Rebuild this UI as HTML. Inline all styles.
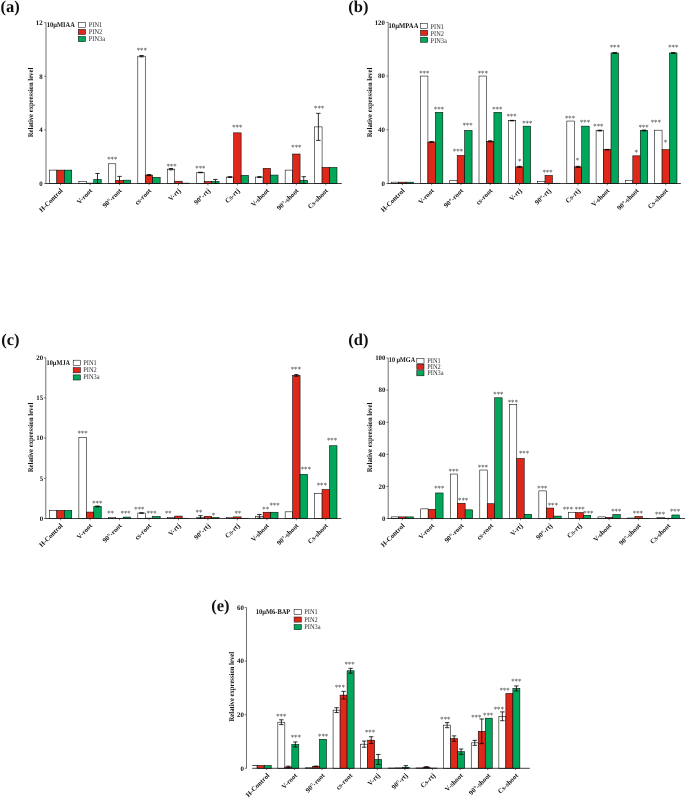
<!DOCTYPE html>
<html><head><meta charset="utf-8"><title>Figure</title>
<style>html,body{margin:0;padding:0;background:#fff}svg{display:block}.t{font-family:"Liberation Serif","Times New Roman",serif;text-rendering:geometricPrecision}</style></head>
<body><svg width="685" height="799" viewBox="0 0 685 799">
<rect width="685" height="799" fill="#fff"/>
<defs><filter id="gs" x="0" y="0" width="685" height="799" filterUnits="userSpaceOnUse" color-interpolation-filters="sRGB"><feColorMatrix type="saturate" values="0"/></filter></defs>
<rect x="49.40" y="170.10" width="7.45" height="13.40" fill="#ffffff" stroke="#000" stroke-width="0.55"/>
<rect x="56.85" y="170.10" width="7.45" height="13.40" fill="#e0281a" stroke="#000" stroke-width="0.55"/>
<rect x="64.30" y="170.10" width="7.45" height="13.40" fill="#00a65a" stroke="#000" stroke-width="0.55"/>
<rect x="78.87" y="181.49" width="7.45" height="2.01" fill="#ffffff" stroke="#000" stroke-width="0.55"/>
<rect x="86.32" y="183.10" width="7.45" height="0.40" fill="#e0281a" stroke="#000" stroke-width="0.55"/>
<rect x="93.77" y="179.48" width="7.45" height="4.02" fill="#00a65a" stroke="#000" stroke-width="0.55"/>
<path d="M97.50 173.45V183.50M95.30 173.45H99.70M95.30 183.50H99.70" stroke="#000" stroke-width="0.8" fill="none"/>
<rect x="108.34" y="163.80" width="7.45" height="19.70" fill="#ffffff" stroke="#000" stroke-width="0.55"/>
<rect x="115.79" y="180.42" width="7.45" height="3.08" fill="#e0281a" stroke="#000" stroke-width="0.55"/>
<path d="M119.52 176.40V183.50M117.31 176.40H121.72M117.31 183.50H121.72" stroke="#000" stroke-width="0.8" fill="none"/>
<rect x="123.24" y="180.15" width="7.45" height="3.35" fill="#00a65a" stroke="#000" stroke-width="0.55"/>
<rect x="137.81" y="56.20" width="7.45" height="127.30" fill="#ffffff" stroke="#000" stroke-width="0.55"/>
<path d="M141.53 55.53V56.87M139.34 55.53H143.73M139.34 56.87H143.73" stroke="#000" stroke-width="0.8" fill="none"/>
<rect x="145.26" y="175.06" width="7.45" height="8.44" fill="#e0281a" stroke="#000" stroke-width="0.55"/>
<path d="M148.98 174.52V175.59M146.78 174.52H151.18M146.78 175.59H151.18" stroke="#000" stroke-width="0.8" fill="none"/>
<rect x="152.71" y="177.34" width="7.45" height="6.16" fill="#00a65a" stroke="#000" stroke-width="0.55"/>
<rect x="167.28" y="169.16" width="7.45" height="14.34" fill="#ffffff" stroke="#000" stroke-width="0.55"/>
<path d="M171.00 168.49V169.83M168.81 168.49H173.20M168.81 169.83H173.20" stroke="#000" stroke-width="0.8" fill="none"/>
<rect x="174.73" y="181.22" width="7.45" height="2.28" fill="#e0281a" stroke="#000" stroke-width="0.55"/>
<rect x="182.18" y="183.10" width="7.45" height="0.40" fill="#00a65a" stroke="#000" stroke-width="0.55"/>
<rect x="196.75" y="172.51" width="7.45" height="10.99" fill="#ffffff" stroke="#000" stroke-width="0.55"/>
<path d="M200.47 172.24V172.78M198.28 172.24H202.67M198.28 172.78H202.67" stroke="#000" stroke-width="0.8" fill="none"/>
<rect x="204.20" y="181.49" width="7.45" height="2.01" fill="#e0281a" stroke="#000" stroke-width="0.55"/>
<rect x="211.65" y="181.49" width="7.45" height="2.01" fill="#00a65a" stroke="#000" stroke-width="0.55"/>
<path d="M215.38 179.48V183.50M213.18 179.48H217.57M213.18 183.50H217.57" stroke="#000" stroke-width="0.8" fill="none"/>
<rect x="226.22" y="177.07" width="7.45" height="6.43" fill="#ffffff" stroke="#000" stroke-width="0.55"/>
<path d="M229.94 176.67V177.47M227.75 176.67H232.14M227.75 177.47H232.14" stroke="#000" stroke-width="0.8" fill="none"/>
<rect x="233.67" y="132.85" width="7.45" height="50.65" fill="#e0281a" stroke="#000" stroke-width="0.55"/>
<rect x="241.12" y="175.33" width="7.45" height="8.17" fill="#00a65a" stroke="#000" stroke-width="0.55"/>
<rect x="255.69" y="177.07" width="7.45" height="6.43" fill="#ffffff" stroke="#000" stroke-width="0.55"/>
<path d="M259.42 176.67V177.47M257.22 176.67H261.62M257.22 177.47H261.62" stroke="#000" stroke-width="0.8" fill="none"/>
<rect x="263.14" y="168.36" width="7.45" height="15.14" fill="#e0281a" stroke="#000" stroke-width="0.55"/>
<rect x="270.59" y="175.06" width="7.45" height="8.44" fill="#00a65a" stroke="#000" stroke-width="0.55"/>
<rect x="285.16" y="170.10" width="7.45" height="13.40" fill="#ffffff" stroke="#000" stroke-width="0.55"/>
<rect x="292.61" y="154.02" width="7.45" height="29.48" fill="#e0281a" stroke="#000" stroke-width="0.55"/>
<rect x="300.06" y="180.42" width="7.45" height="3.08" fill="#00a65a" stroke="#000" stroke-width="0.55"/>
<path d="M303.78 176.67V183.50M301.58 176.67H305.98M301.58 183.50H305.98" stroke="#000" stroke-width="0.8" fill="none"/>
<rect x="314.63" y="126.89" width="7.45" height="56.61" fill="#ffffff" stroke="#000" stroke-width="0.55"/>
<path d="M318.36 113.35V140.42M316.16 113.35H320.56M316.16 140.42H320.56" stroke="#000" stroke-width="0.8" fill="none"/>
<rect x="322.08" y="167.42" width="7.45" height="16.08" fill="#e0281a" stroke="#000" stroke-width="0.55"/>
<rect x="329.53" y="167.42" width="7.45" height="16.08" fill="#00a65a" stroke="#000" stroke-width="0.55"/>
<path d="M46.00 22.70V183.50" stroke="#333" stroke-width="0.7" fill="none"/>
<path d="M45.70 183.50H341.80" stroke="#111" stroke-width="0.8" fill="none"/>
<path d="M44.20 183.50H46.00" stroke="#222" stroke-width="0.6"/>
<path d="M44.20 129.90H46.00" stroke="#222" stroke-width="0.6"/>
<path d="M44.20 76.30H46.00" stroke="#222" stroke-width="0.6"/>
<path d="M44.20 22.70H46.00" stroke="#222" stroke-width="0.6"/>
<path d="M60.58 183.50v1.8" stroke="#222" stroke-width="0.6"/>
<path d="M90.05 183.50v1.8" stroke="#222" stroke-width="0.6"/>
<path d="M119.52 183.50v1.8" stroke="#222" stroke-width="0.6"/>
<path d="M148.99 183.50v1.8" stroke="#222" stroke-width="0.6"/>
<path d="M178.46 183.50v1.8" stroke="#222" stroke-width="0.6"/>
<path d="M207.93 183.50v1.8" stroke="#222" stroke-width="0.6"/>
<path d="M237.40 183.50v1.8" stroke="#222" stroke-width="0.6"/>
<path d="M266.87 183.50v1.8" stroke="#222" stroke-width="0.6"/>
<path d="M296.33 183.50v1.8" stroke="#222" stroke-width="0.6"/>
<path d="M325.81 183.50v1.8" stroke="#222" stroke-width="0.6"/>
<rect x="78.30" y="22.50" width="7.2" height="5.1" fill="#ffffff" stroke="#111" stroke-width="0.55"/>
<rect x="78.30" y="29.40" width="7.2" height="5.1" fill="#e0281a" stroke="#111" stroke-width="0.55"/>
<rect x="78.30" y="36.50" width="7.2" height="5.1" fill="#00a65a" stroke="#111" stroke-width="0.55"/>
<rect x="391.20" y="182.16" width="7.45" height="1.34" fill="#ffffff" stroke="#000" stroke-width="0.55"/>
<rect x="398.65" y="182.16" width="7.45" height="1.34" fill="#e0281a" stroke="#000" stroke-width="0.55"/>
<rect x="406.10" y="182.16" width="7.45" height="1.34" fill="#00a65a" stroke="#000" stroke-width="0.55"/>
<rect x="420.47" y="76.06" width="7.45" height="107.44" fill="#ffffff" stroke="#000" stroke-width="0.55"/>
<rect x="427.92" y="142.00" width="7.45" height="41.50" fill="#e0281a" stroke="#000" stroke-width="0.55"/>
<path d="M431.64 141.46V142.54M429.44 141.46H433.84M429.44 142.54H433.84" stroke="#000" stroke-width="0.8" fill="none"/>
<rect x="435.37" y="112.32" width="7.45" height="71.18" fill="#00a65a" stroke="#000" stroke-width="0.55"/>
<rect x="449.74" y="180.55" width="7.45" height="2.95" fill="#ffffff" stroke="#000" stroke-width="0.55"/>
<rect x="457.19" y="155.43" width="7.45" height="28.07" fill="#e0281a" stroke="#000" stroke-width="0.55"/>
<rect x="464.64" y="130.45" width="7.45" height="53.05" fill="#00a65a" stroke="#000" stroke-width="0.55"/>
<rect x="479.01" y="76.06" width="7.45" height="107.44" fill="#ffffff" stroke="#000" stroke-width="0.55"/>
<rect x="486.46" y="141.33" width="7.45" height="42.17" fill="#e0281a" stroke="#000" stroke-width="0.55"/>
<path d="M490.19 140.79V141.87M487.99 140.79H492.38M487.99 141.87H492.38" stroke="#000" stroke-width="0.8" fill="none"/>
<rect x="493.91" y="112.32" width="7.45" height="71.18" fill="#00a65a" stroke="#000" stroke-width="0.55"/>
<rect x="508.28" y="120.65" width="7.45" height="62.85" fill="#ffffff" stroke="#000" stroke-width="0.55"/>
<path d="M512.00 120.38V120.92M509.81 120.38H514.21M509.81 120.92H514.21" stroke="#000" stroke-width="0.8" fill="none"/>
<rect x="515.73" y="166.85" width="7.45" height="16.65" fill="#e0281a" stroke="#000" stroke-width="0.55"/>
<path d="M519.46 166.31V167.38M517.25 166.31H521.66M517.25 167.38H521.66" stroke="#000" stroke-width="0.8" fill="none"/>
<rect x="523.18" y="126.15" width="7.45" height="57.35" fill="#00a65a" stroke="#000" stroke-width="0.55"/>
<rect x="537.55" y="181.35" width="7.45" height="2.15" fill="#ffffff" stroke="#000" stroke-width="0.55"/>
<rect x="545.00" y="175.44" width="7.45" height="8.06" fill="#e0281a" stroke="#000" stroke-width="0.55"/>
<rect x="552.45" y="183.25" width="7.45" height="0.25" fill="#00a65a" stroke="#000" stroke-width="0.55"/>
<rect x="566.82" y="121.05" width="7.45" height="62.45" fill="#ffffff" stroke="#000" stroke-width="0.55"/>
<rect x="574.27" y="166.85" width="7.45" height="16.65" fill="#e0281a" stroke="#000" stroke-width="0.55"/>
<path d="M578.00 166.31V167.38M575.79 166.31H580.20M575.79 167.38H580.20" stroke="#000" stroke-width="0.8" fill="none"/>
<rect x="581.72" y="126.15" width="7.45" height="57.35" fill="#00a65a" stroke="#000" stroke-width="0.55"/>
<rect x="596.09" y="130.59" width="7.45" height="52.91" fill="#ffffff" stroke="#000" stroke-width="0.55"/>
<path d="M599.81 130.18V130.99M597.61 130.18H602.01M597.61 130.99H602.01" stroke="#000" stroke-width="0.8" fill="none"/>
<rect x="603.54" y="149.66" width="7.45" height="33.84" fill="#e0281a" stroke="#000" stroke-width="0.55"/>
<path d="M607.26 149.39V149.93M605.06 149.39H609.47M605.06 149.93H609.47" stroke="#000" stroke-width="0.8" fill="none"/>
<rect x="610.99" y="52.96" width="7.45" height="130.54" fill="#00a65a" stroke="#000" stroke-width="0.55"/>
<path d="M614.71 52.56V53.36M612.51 52.56H616.91M612.51 53.36H616.91" stroke="#000" stroke-width="0.8" fill="none"/>
<rect x="625.36" y="180.41" width="7.45" height="3.09" fill="#ffffff" stroke="#000" stroke-width="0.55"/>
<rect x="632.81" y="155.83" width="7.45" height="27.67" fill="#e0281a" stroke="#000" stroke-width="0.55"/>
<rect x="640.26" y="130.45" width="7.45" height="53.05" fill="#00a65a" stroke="#000" stroke-width="0.55"/>
<path d="M643.99 130.05V130.85M641.78 130.05H646.19M641.78 130.85H646.19" stroke="#000" stroke-width="0.8" fill="none"/>
<rect x="654.63" y="130.18" width="7.45" height="53.32" fill="#ffffff" stroke="#000" stroke-width="0.55"/>
<rect x="662.08" y="149.66" width="7.45" height="33.84" fill="#e0281a" stroke="#000" stroke-width="0.55"/>
<rect x="669.53" y="52.96" width="7.45" height="130.54" fill="#00a65a" stroke="#000" stroke-width="0.55"/>
<path d="M673.25 52.56V53.36M671.05 52.56H675.46M671.05 53.36H675.46" stroke="#000" stroke-width="0.8" fill="none"/>
<path d="M388.20 22.34V183.50" stroke="#333" stroke-width="0.7" fill="none"/>
<path d="M387.90 183.50H680.90" stroke="#111" stroke-width="0.8" fill="none"/>
<path d="M386.40 183.50H388.20" stroke="#222" stroke-width="0.6"/>
<path d="M386.40 129.78H388.20" stroke="#222" stroke-width="0.6"/>
<path d="M386.40 76.06H388.20" stroke="#222" stroke-width="0.6"/>
<path d="M386.40 22.34H388.20" stroke="#222" stroke-width="0.6"/>
<path d="M402.38 183.50v1.8" stroke="#222" stroke-width="0.6"/>
<path d="M431.64 183.50v1.8" stroke="#222" stroke-width="0.6"/>
<path d="M460.92 183.50v1.8" stroke="#222" stroke-width="0.6"/>
<path d="M490.19 183.50v1.8" stroke="#222" stroke-width="0.6"/>
<path d="M519.45 183.50v1.8" stroke="#222" stroke-width="0.6"/>
<path d="M548.72 183.50v1.8" stroke="#222" stroke-width="0.6"/>
<path d="M577.99 183.50v1.8" stroke="#222" stroke-width="0.6"/>
<path d="M607.26 183.50v1.8" stroke="#222" stroke-width="0.6"/>
<path d="M636.53 183.50v1.8" stroke="#222" stroke-width="0.6"/>
<path d="M665.80 183.50v1.8" stroke="#222" stroke-width="0.6"/>
<rect x="420.50" y="23.50" width="7.2" height="5.1" fill="#ffffff" stroke="#111" stroke-width="0.55"/>
<rect x="420.50" y="30.30" width="7.2" height="5.1" fill="#e0281a" stroke="#111" stroke-width="0.55"/>
<rect x="420.50" y="37.20" width="7.2" height="5.1" fill="#00a65a" stroke="#111" stroke-width="0.55"/>
<rect x="49.40" y="510.46" width="7.45" height="8.04" fill="#ffffff" stroke="#000" stroke-width="0.55"/>
<rect x="56.85" y="510.46" width="7.45" height="8.04" fill="#e0281a" stroke="#000" stroke-width="0.55"/>
<rect x="64.30" y="510.46" width="7.45" height="8.04" fill="#00a65a" stroke="#000" stroke-width="0.55"/>
<rect x="78.87" y="437.30" width="7.45" height="81.20" fill="#ffffff" stroke="#000" stroke-width="0.55"/>
<rect x="86.32" y="512.07" width="7.45" height="6.43" fill="#e0281a" stroke="#000" stroke-width="0.55"/>
<rect x="93.77" y="506.44" width="7.45" height="12.06" fill="#00a65a" stroke="#000" stroke-width="0.55"/>
<path d="M97.50 506.04V506.84M95.30 506.04H99.70M95.30 506.84H99.70" stroke="#000" stroke-width="0.8" fill="none"/>
<rect x="108.34" y="517.29" width="7.45" height="1.21" fill="#ffffff" stroke="#000" stroke-width="0.55"/>
<rect x="115.79" y="518.25" width="7.45" height="0.25" fill="#e0281a" stroke="#000" stroke-width="0.55"/>
<rect x="123.24" y="517.05" width="7.45" height="1.45" fill="#00a65a" stroke="#000" stroke-width="0.55"/>
<rect x="137.81" y="513.03" width="7.45" height="5.47" fill="#ffffff" stroke="#000" stroke-width="0.55"/>
<path d="M141.53 512.79V513.27M139.34 512.79H143.73M139.34 513.27H143.73" stroke="#000" stroke-width="0.8" fill="none"/>
<rect x="145.26" y="518.10" width="7.45" height="0.40" fill="#e0281a" stroke="#000" stroke-width="0.55"/>
<rect x="152.71" y="516.49" width="7.45" height="2.01" fill="#00a65a" stroke="#000" stroke-width="0.55"/>
<rect x="167.28" y="517.29" width="7.45" height="1.21" fill="#ffffff" stroke="#000" stroke-width="0.55"/>
<rect x="174.73" y="516.09" width="7.45" height="2.41" fill="#e0281a" stroke="#000" stroke-width="0.55"/>
<rect x="182.18" y="518.25" width="7.45" height="0.25" fill="#00a65a" stroke="#000" stroke-width="0.55"/>
<rect x="196.75" y="517.29" width="7.45" height="1.21" fill="#ffffff" stroke="#000" stroke-width="0.55"/>
<path d="M200.47 515.69V518.50M198.28 515.69H202.67M198.28 518.50H202.67" stroke="#000" stroke-width="0.8" fill="none"/>
<rect x="204.20" y="516.25" width="7.45" height="2.25" fill="#e0281a" stroke="#000" stroke-width="0.55"/>
<rect x="211.65" y="517.54" width="7.45" height="0.96" fill="#00a65a" stroke="#000" stroke-width="0.55"/>
<rect x="226.22" y="517.70" width="7.45" height="0.80" fill="#ffffff" stroke="#000" stroke-width="0.55"/>
<rect x="233.67" y="516.89" width="7.45" height="1.61" fill="#e0281a" stroke="#000" stroke-width="0.55"/>
<rect x="241.12" y="518.25" width="7.45" height="0.25" fill="#00a65a" stroke="#000" stroke-width="0.55"/>
<rect x="255.69" y="516.25" width="7.45" height="2.25" fill="#ffffff" stroke="#000" stroke-width="0.55"/>
<path d="M259.42 514.48V518.02M257.22 514.48H261.62M257.22 518.02H261.62" stroke="#000" stroke-width="0.8" fill="none"/>
<rect x="263.14" y="512.23" width="7.45" height="6.27" fill="#e0281a" stroke="#000" stroke-width="0.55"/>
<rect x="270.59" y="512.23" width="7.45" height="6.27" fill="#00a65a" stroke="#000" stroke-width="0.55"/>
<rect x="285.16" y="511.83" width="7.45" height="6.67" fill="#ffffff" stroke="#000" stroke-width="0.55"/>
<rect x="292.61" y="375.39" width="7.45" height="143.11" fill="#e0281a" stroke="#000" stroke-width="0.55"/>
<path d="M296.33 374.58V376.19M294.13 374.58H298.53M294.13 376.19H298.53" stroke="#000" stroke-width="0.8" fill="none"/>
<rect x="300.06" y="474.28" width="7.45" height="44.22" fill="#00a65a" stroke="#000" stroke-width="0.55"/>
<rect x="314.63" y="493.58" width="7.45" height="24.92" fill="#ffffff" stroke="#000" stroke-width="0.55"/>
<rect x="322.08" y="489.56" width="7.45" height="28.94" fill="#e0281a" stroke="#000" stroke-width="0.55"/>
<rect x="329.53" y="445.74" width="7.45" height="72.76" fill="#00a65a" stroke="#000" stroke-width="0.55"/>
<path d="M45.80 357.70V518.50" stroke="#333" stroke-width="0.7" fill="none"/>
<path d="M45.50 518.50H341.20" stroke="#111" stroke-width="0.8" fill="none"/>
<path d="M44.00 518.50H45.80" stroke="#222" stroke-width="0.6"/>
<path d="M44.00 478.30H45.80" stroke="#222" stroke-width="0.6"/>
<path d="M44.00 438.10H45.80" stroke="#222" stroke-width="0.6"/>
<path d="M44.00 397.90H45.80" stroke="#222" stroke-width="0.6"/>
<path d="M44.00 357.70H45.80" stroke="#222" stroke-width="0.6"/>
<path d="M60.58 518.50v1.8" stroke="#222" stroke-width="0.6"/>
<path d="M90.05 518.50v1.8" stroke="#222" stroke-width="0.6"/>
<path d="M119.52 518.50v1.8" stroke="#222" stroke-width="0.6"/>
<path d="M148.99 518.50v1.8" stroke="#222" stroke-width="0.6"/>
<path d="M178.46 518.50v1.8" stroke="#222" stroke-width="0.6"/>
<path d="M207.93 518.50v1.8" stroke="#222" stroke-width="0.6"/>
<path d="M237.40 518.50v1.8" stroke="#222" stroke-width="0.6"/>
<path d="M266.87 518.50v1.8" stroke="#222" stroke-width="0.6"/>
<path d="M296.33 518.50v1.8" stroke="#222" stroke-width="0.6"/>
<path d="M325.81 518.50v1.8" stroke="#222" stroke-width="0.6"/>
<rect x="73.20" y="360.20" width="7.2" height="5.1" fill="#ffffff" stroke="#111" stroke-width="0.55"/>
<rect x="73.20" y="367.70" width="7.2" height="5.1" fill="#e0281a" stroke="#111" stroke-width="0.55"/>
<rect x="73.20" y="374.90" width="7.2" height="5.1" fill="#00a65a" stroke="#111" stroke-width="0.55"/>
<rect x="391.20" y="516.89" width="7.45" height="1.60" fill="#ffffff" stroke="#000" stroke-width="0.55"/>
<rect x="398.65" y="516.89" width="7.45" height="1.60" fill="#e0281a" stroke="#000" stroke-width="0.55"/>
<rect x="406.10" y="516.89" width="7.45" height="1.60" fill="#00a65a" stroke="#000" stroke-width="0.55"/>
<rect x="420.73" y="508.87" width="7.45" height="9.63" fill="#ffffff" stroke="#000" stroke-width="0.55"/>
<rect x="428.18" y="509.35" width="7.45" height="9.15" fill="#e0281a" stroke="#000" stroke-width="0.55"/>
<rect x="435.63" y="492.98" width="7.45" height="25.52" fill="#00a65a" stroke="#000" stroke-width="0.55"/>
<rect x="450.26" y="474.04" width="7.45" height="44.46" fill="#ffffff" stroke="#000" stroke-width="0.55"/>
<rect x="457.71" y="503.25" width="7.45" height="15.25" fill="#e0281a" stroke="#000" stroke-width="0.55"/>
<rect x="465.16" y="509.83" width="7.45" height="8.67" fill="#00a65a" stroke="#000" stroke-width="0.55"/>
<rect x="479.79" y="470.03" width="7.45" height="48.47" fill="#ffffff" stroke="#000" stroke-width="0.55"/>
<rect x="487.24" y="503.73" width="7.45" height="14.77" fill="#e0281a" stroke="#000" stroke-width="0.55"/>
<rect x="494.69" y="397.80" width="7.45" height="120.70" fill="#00a65a" stroke="#000" stroke-width="0.55"/>
<rect x="509.32" y="404.38" width="7.45" height="114.12" fill="#ffffff" stroke="#000" stroke-width="0.55"/>
<rect x="516.77" y="458.47" width="7.45" height="60.03" fill="#e0281a" stroke="#000" stroke-width="0.55"/>
<rect x="524.22" y="514.33" width="7.45" height="4.17" fill="#00a65a" stroke="#000" stroke-width="0.55"/>
<rect x="538.85" y="490.89" width="7.45" height="27.61" fill="#ffffff" stroke="#000" stroke-width="0.55"/>
<rect x="546.30" y="508.07" width="7.45" height="10.43" fill="#e0281a" stroke="#000" stroke-width="0.55"/>
<rect x="553.75" y="516.09" width="7.45" height="2.41" fill="#00a65a" stroke="#000" stroke-width="0.55"/>
<rect x="568.38" y="512.24" width="7.45" height="6.26" fill="#ffffff" stroke="#000" stroke-width="0.55"/>
<rect x="575.83" y="512.56" width="7.45" height="5.94" fill="#e0281a" stroke="#000" stroke-width="0.55"/>
<rect x="583.28" y="515.29" width="7.45" height="3.21" fill="#00a65a" stroke="#000" stroke-width="0.55"/>
<rect x="597.91" y="516.89" width="7.45" height="1.60" fill="#ffffff" stroke="#000" stroke-width="0.55"/>
<rect x="605.36" y="517.38" width="7.45" height="1.12" fill="#e0281a" stroke="#000" stroke-width="0.55"/>
<rect x="612.81" y="514.49" width="7.45" height="4.01" fill="#00a65a" stroke="#000" stroke-width="0.55"/>
<rect x="627.44" y="518.02" width="7.45" height="0.48" fill="#ffffff" stroke="#000" stroke-width="0.55"/>
<rect x="634.89" y="516.57" width="7.45" height="1.93" fill="#e0281a" stroke="#000" stroke-width="0.55"/>
<rect x="642.34" y="518.25" width="7.45" height="0.25" fill="#00a65a" stroke="#000" stroke-width="0.55"/>
<rect x="656.97" y="517.38" width="7.45" height="1.12" fill="#ffffff" stroke="#000" stroke-width="0.55"/>
<rect x="664.42" y="518.18" width="7.45" height="0.32" fill="#e0281a" stroke="#000" stroke-width="0.55"/>
<rect x="671.87" y="514.97" width="7.45" height="3.53" fill="#00a65a" stroke="#000" stroke-width="0.55"/>
<path d="M388.20 358.00V518.50" stroke="#333" stroke-width="0.7" fill="none"/>
<path d="M387.90 518.50H685.00" stroke="#111" stroke-width="0.8" fill="none"/>
<path d="M386.40 518.50H388.20" stroke="#222" stroke-width="0.6"/>
<path d="M386.40 486.40H388.20" stroke="#222" stroke-width="0.6"/>
<path d="M386.40 454.30H388.20" stroke="#222" stroke-width="0.6"/>
<path d="M386.40 422.20H388.20" stroke="#222" stroke-width="0.6"/>
<path d="M386.40 390.10H388.20" stroke="#222" stroke-width="0.6"/>
<path d="M386.40 358.00H388.20" stroke="#222" stroke-width="0.6"/>
<path d="M402.38 518.50v1.8" stroke="#222" stroke-width="0.6"/>
<path d="M431.91 518.50v1.8" stroke="#222" stroke-width="0.6"/>
<path d="M461.44 518.50v1.8" stroke="#222" stroke-width="0.6"/>
<path d="M490.96 518.50v1.8" stroke="#222" stroke-width="0.6"/>
<path d="M520.50 518.50v1.8" stroke="#222" stroke-width="0.6"/>
<path d="M550.02 518.50v1.8" stroke="#222" stroke-width="0.6"/>
<path d="M579.55 518.50v1.8" stroke="#222" stroke-width="0.6"/>
<path d="M609.08 518.50v1.8" stroke="#222" stroke-width="0.6"/>
<path d="M638.62 518.50v1.8" stroke="#222" stroke-width="0.6"/>
<path d="M668.14 518.50v1.8" stroke="#222" stroke-width="0.6"/>
<rect x="416.80" y="358.60" width="7.2" height="5.1" fill="#ffffff" stroke="#111" stroke-width="0.55"/>
<rect x="416.80" y="364.30" width="7.2" height="5.1" fill="#e0281a" stroke="#111" stroke-width="0.55"/>
<rect x="416.80" y="370.70" width="7.2" height="5.1" fill="#00a65a" stroke="#111" stroke-width="0.55"/>
<path d="M252.30 765.51H257.20V768.30" fill="none" stroke="#000" stroke-width="0.7"/>
<rect x="257.20" y="765.51" width="7.00" height="2.79" fill="#e0281a" stroke="#000" stroke-width="0.55"/>
<rect x="264.20" y="765.51" width="7.00" height="2.79" fill="#00a65a" stroke="#000" stroke-width="0.55"/>
<rect x="277.83" y="722.20" width="7.00" height="46.10" fill="#ffffff" stroke="#000" stroke-width="0.55"/>
<path d="M281.33 719.79V724.62M279.13 719.79H283.53M279.13 724.62H283.53" stroke="#000" stroke-width="0.8" fill="none"/>
<rect x="284.83" y="766.96" width="7.00" height="1.34" fill="#e0281a" stroke="#000" stroke-width="0.55"/>
<path d="M288.33 766.16V767.76M286.13 766.16H290.53M286.13 767.76H290.53" stroke="#000" stroke-width="0.8" fill="none"/>
<rect x="291.83" y="744.45" width="7.00" height="23.85" fill="#00a65a" stroke="#000" stroke-width="0.55"/>
<path d="M295.33 741.96V746.94M293.13 741.96H297.53M293.13 746.94H297.53" stroke="#000" stroke-width="0.8" fill="none"/>
<rect x="305.46" y="767.76" width="7.00" height="0.54" fill="#ffffff" stroke="#000" stroke-width="0.55"/>
<rect x="312.46" y="766.42" width="7.00" height="1.88" fill="#e0281a" stroke="#000" stroke-width="0.55"/>
<path d="M315.96 766.02V766.83M313.76 766.02H318.16M313.76 766.83H318.16" stroke="#000" stroke-width="0.8" fill="none"/>
<rect x="319.46" y="739.36" width="7.00" height="28.94" fill="#00a65a" stroke="#000" stroke-width="0.55"/>
<rect x="333.09" y="710.14" width="7.00" height="58.16" fill="#ffffff" stroke="#000" stroke-width="0.55"/>
<path d="M336.59 707.73V712.56M334.39 707.73H338.79M334.39 712.56H338.79" stroke="#000" stroke-width="0.8" fill="none"/>
<rect x="340.09" y="695.14" width="7.00" height="73.16" fill="#e0281a" stroke="#000" stroke-width="0.55"/>
<path d="M343.59 691.38V698.89M341.39 691.38H345.79M341.39 698.89H345.79" stroke="#000" stroke-width="0.8" fill="none"/>
<rect x="347.09" y="670.75" width="7.00" height="97.55" fill="#00a65a" stroke="#000" stroke-width="0.55"/>
<path d="M350.59 668.34V673.16M348.39 668.34H352.79M348.39 673.16H352.79" stroke="#000" stroke-width="0.8" fill="none"/>
<rect x="360.72" y="744.18" width="7.00" height="24.12" fill="#ffffff" stroke="#000" stroke-width="0.55"/>
<path d="M364.22 741.10V747.26M362.02 741.10H366.42M362.02 747.26H366.42" stroke="#000" stroke-width="0.8" fill="none"/>
<rect x="367.72" y="740.16" width="7.00" height="28.14" fill="#e0281a" stroke="#000" stroke-width="0.55"/>
<path d="M371.22 736.76V743.56M369.02 736.76H373.42M369.02 743.56H373.42" stroke="#000" stroke-width="0.8" fill="none"/>
<rect x="374.72" y="759.46" width="7.00" height="8.84" fill="#00a65a" stroke="#000" stroke-width="0.55"/>
<path d="M378.22 754.44V764.47M376.02 754.44H380.42M376.02 764.47H380.42" stroke="#000" stroke-width="0.8" fill="none"/>
<rect x="388.35" y="768.03" width="7.00" height="0.27" fill="#ffffff" stroke="#000" stroke-width="0.55"/>
<rect x="395.35" y="767.90" width="7.00" height="0.40" fill="#e0281a" stroke="#000" stroke-width="0.55"/>
<rect x="402.35" y="767.23" width="7.00" height="1.07" fill="#00a65a" stroke="#000" stroke-width="0.55"/>
<path d="M405.85 765.62V768.30M403.65 765.62H408.05M403.65 768.30H408.05" stroke="#000" stroke-width="0.8" fill="none"/>
<rect x="415.98" y="767.90" width="7.00" height="0.40" fill="#ffffff" stroke="#000" stroke-width="0.55"/>
<rect x="422.98" y="767.09" width="7.00" height="1.21" fill="#e0281a" stroke="#000" stroke-width="0.55"/>
<path d="M426.48 766.69V767.50M424.28 766.69H428.68M424.28 767.50H428.68" stroke="#000" stroke-width="0.8" fill="none"/>
<rect x="429.98" y="768.03" width="7.00" height="0.27" fill="#00a65a" stroke="#000" stroke-width="0.55"/>
<rect x="443.61" y="725.15" width="7.00" height="43.15" fill="#ffffff" stroke="#000" stroke-width="0.55"/>
<path d="M447.11 722.61V727.70M444.91 722.61H449.31M444.91 727.70H449.31" stroke="#000" stroke-width="0.8" fill="none"/>
<rect x="450.61" y="738.55" width="7.00" height="29.75" fill="#e0281a" stroke="#000" stroke-width="0.55"/>
<path d="M454.11 735.87V741.23M451.91 735.87H456.31M451.91 741.23H456.31" stroke="#000" stroke-width="0.8" fill="none"/>
<rect x="457.61" y="751.68" width="7.00" height="16.62" fill="#00a65a" stroke="#000" stroke-width="0.55"/>
<path d="M461.11 749.00V754.36M458.91 749.00H463.31M458.91 754.36H463.31" stroke="#000" stroke-width="0.8" fill="none"/>
<rect x="471.24" y="742.84" width="7.00" height="25.46" fill="#ffffff" stroke="#000" stroke-width="0.55"/>
<path d="M474.74 740.35V745.33M472.54 740.35H476.94M472.54 745.33H476.94" stroke="#000" stroke-width="0.8" fill="none"/>
<rect x="478.24" y="731.32" width="7.00" height="36.98" fill="#e0281a" stroke="#000" stroke-width="0.55"/>
<path d="M481.74 718.99V743.64M479.54 718.99H483.94M479.54 743.64H483.94" stroke="#000" stroke-width="0.8" fill="none"/>
<rect x="485.24" y="718.18" width="7.00" height="50.12" fill="#00a65a" stroke="#000" stroke-width="0.55"/>
<rect x="498.87" y="716.31" width="7.00" height="51.99" fill="#ffffff" stroke="#000" stroke-width="0.55"/>
<path d="M502.37 711.89V720.73M500.17 711.89H504.57M500.17 720.73H504.57" stroke="#000" stroke-width="0.8" fill="none"/>
<rect x="505.87" y="693.53" width="7.00" height="74.77" fill="#e0281a" stroke="#000" stroke-width="0.55"/>
<rect x="512.87" y="688.44" width="7.00" height="79.86" fill="#00a65a" stroke="#000" stroke-width="0.55"/>
<path d="M516.37 685.94V690.93M514.17 685.94H518.57M514.17 690.93H518.57" stroke="#000" stroke-width="0.8" fill="none"/>
<path d="M246.50 607.50V768.30" stroke="#333" stroke-width="0.7" fill="none"/>
<path d="M252.20 768.30H529.80" stroke="#111" stroke-width="0.8" fill="none"/>
<path d="M244.70 768.30H246.50" stroke="#222" stroke-width="0.6"/>
<path d="M244.70 714.70H246.50" stroke="#222" stroke-width="0.6"/>
<path d="M244.70 661.10H246.50" stroke="#222" stroke-width="0.6"/>
<path d="M244.70 607.50H246.50" stroke="#222" stroke-width="0.6"/>
<path d="M266.70 768.30v1.8" stroke="#222" stroke-width="0.6"/>
<path d="M294.33 768.30v1.8" stroke="#222" stroke-width="0.6"/>
<path d="M321.96 768.30v1.8" stroke="#222" stroke-width="0.6"/>
<path d="M349.59 768.30v1.8" stroke="#222" stroke-width="0.6"/>
<path d="M377.22 768.30v1.8" stroke="#222" stroke-width="0.6"/>
<path d="M404.85 768.30v1.8" stroke="#222" stroke-width="0.6"/>
<path d="M432.48 768.30v1.8" stroke="#222" stroke-width="0.6"/>
<path d="M460.11 768.30v1.8" stroke="#222" stroke-width="0.6"/>
<path d="M487.74 768.30v1.8" stroke="#222" stroke-width="0.6"/>
<path d="M515.37 768.30v1.8" stroke="#222" stroke-width="0.6"/>
<rect x="294.10" y="609.40" width="7.2" height="5.1" fill="#ffffff" stroke="#111" stroke-width="0.55"/>
<rect x="294.10" y="617.00" width="7.2" height="5.1" fill="#e0281a" stroke="#111" stroke-width="0.55"/>
<rect x="294.10" y="624.60" width="7.2" height="5.1" fill="#00a65a" stroke="#111" stroke-width="0.55"/>
<g filter="url(#gs)">
<text x="42.70" y="185.85" text-anchor="end" class="t" font-size="6.85" font-weight="bold" fill="#111">0</text>
<text x="42.70" y="132.25" text-anchor="end" class="t" font-size="6.85" font-weight="bold" fill="#111">4</text>
<text x="42.70" y="78.65" text-anchor="end" class="t" font-size="6.85" font-weight="bold" fill="#111">8</text>
<text x="42.70" y="25.05" text-anchor="end" class="t" font-size="6.85" font-weight="bold" fill="#111">12</text>
<text transform="translate(63.18 191.20) rotate(-45)" text-anchor="end" class="t" font-size="6.85" font-weight="bold" fill="#111">H-Control</text>
<text transform="translate(92.64 191.20) rotate(-45)" text-anchor="end" class="t" font-size="6.85" font-weight="bold" fill="#111">V-root</text>
<text transform="translate(122.11 191.20) rotate(-45)" text-anchor="end" class="t" font-size="6.85" font-weight="bold" fill="#111">90°-root</text>
<text transform="translate(151.59 191.20) rotate(-45)" text-anchor="end" class="t" font-size="6.85" font-weight="bold" fill="#111">cs-root</text>
<text transform="translate(181.06 191.20) rotate(-45)" text-anchor="end" class="t" font-size="6.85" font-weight="bold" fill="#111">V-rtj</text>
<text transform="translate(210.53 191.20) rotate(-45)" text-anchor="end" class="t" font-size="6.85" font-weight="bold" fill="#111">90°-rtj</text>
<text transform="translate(240.00 191.20) rotate(-45)" text-anchor="end" class="t" font-size="6.85" font-weight="bold" fill="#111">Cs-rtj</text>
<text transform="translate(269.47 191.20) rotate(-45)" text-anchor="end" class="t" font-size="6.85" font-weight="bold" fill="#111">V-shoot</text>
<text transform="translate(298.94 191.20) rotate(-45)" text-anchor="end" class="t" font-size="6.85" font-weight="bold" fill="#111">90°-shoot</text>
<text transform="translate(328.41 191.20) rotate(-45)" text-anchor="end" class="t" font-size="6.85" font-weight="bold" fill="#111">Cs-shoot</text>
<text transform="translate(33.20 102.50) rotate(-90)" text-anchor="middle" class="t" font-size="7.3" font-weight="bold" fill="#111" textLength="69.5" lengthAdjust="spacingAndGlyphs">Relative expression level</text>
<text x="0.5" y="12.2" class="t" font-size="16.5" font-weight="bold" fill="#111">(a)</text>
<text x="46.8" y="27.2" class="t" font-size="7.2" font-weight="bold" fill="#111" textLength="28" lengthAdjust="spacingAndGlyphs">10µMIAA</text>
<text x="88.80" y="27.40" class="t" font-size="7.2" fill="#2a2a2a" textLength="13.4" lengthAdjust="spacingAndGlyphs">PIN1</text>
<text x="88.80" y="34.30" class="t" font-size="7.2" fill="#2a2a2a" textLength="13.4" lengthAdjust="spacingAndGlyphs">PIN2</text>
<text x="88.80" y="41.40" class="t" font-size="7.2" fill="#2a2a2a" textLength="16.3" lengthAdjust="spacingAndGlyphs">PIN3a</text>
<text x="112.30" y="162.00" text-anchor="middle" class="t" font-size="8.2" fill="#1a1a1a" textLength="10.1" lengthAdjust="spacingAndGlyphs">***</text>
<text x="141.70" y="53.30" text-anchor="middle" class="t" font-size="8.2" fill="#1a1a1a" textLength="10.1" lengthAdjust="spacingAndGlyphs">***</text>
<text x="171.50" y="169.40" text-anchor="middle" class="t" font-size="8.2" fill="#1a1a1a" textLength="10.1" lengthAdjust="spacingAndGlyphs">***</text>
<text x="200.40" y="171.10" text-anchor="middle" class="t" font-size="8.2" fill="#1a1a1a" textLength="10.1" lengthAdjust="spacingAndGlyphs">***</text>
<text x="237.30" y="130.00" text-anchor="middle" class="t" font-size="8.2" fill="#1a1a1a" textLength="10.1" lengthAdjust="spacingAndGlyphs">***</text>
<text x="296.40" y="149.90" text-anchor="middle" class="t" font-size="8.2" fill="#1a1a1a" textLength="10.1" lengthAdjust="spacingAndGlyphs">***</text>
<text x="319.10" y="110.80" text-anchor="middle" class="t" font-size="8.2" fill="#1a1a1a" textLength="10.1" lengthAdjust="spacingAndGlyphs">***</text>
<text x="384.90" y="185.85" text-anchor="end" class="t" font-size="6.85" font-weight="bold" fill="#111">0</text>
<text x="384.90" y="132.13" text-anchor="end" class="t" font-size="6.85" font-weight="bold" fill="#111">40</text>
<text x="384.90" y="78.41" text-anchor="end" class="t" font-size="6.85" font-weight="bold" fill="#111">80</text>
<text x="384.90" y="24.69" text-anchor="end" class="t" font-size="6.85" font-weight="bold" fill="#111">120</text>
<text transform="translate(404.98 191.20) rotate(-45)" text-anchor="end" class="t" font-size="6.85" font-weight="bold" fill="#111">H-Control</text>
<text transform="translate(434.25 191.20) rotate(-45)" text-anchor="end" class="t" font-size="6.85" font-weight="bold" fill="#111">V-root</text>
<text transform="translate(463.52 191.20) rotate(-45)" text-anchor="end" class="t" font-size="6.85" font-weight="bold" fill="#111">90°-root</text>
<text transform="translate(492.79 191.20) rotate(-45)" text-anchor="end" class="t" font-size="6.85" font-weight="bold" fill="#111">cs-root</text>
<text transform="translate(522.05 191.20) rotate(-45)" text-anchor="end" class="t" font-size="6.85" font-weight="bold" fill="#111">V-rtj</text>
<text transform="translate(551.32 191.20) rotate(-45)" text-anchor="end" class="t" font-size="6.85" font-weight="bold" fill="#111">90°-rtj</text>
<text transform="translate(580.59 191.20) rotate(-45)" text-anchor="end" class="t" font-size="6.85" font-weight="bold" fill="#111">Cs-rtj</text>
<text transform="translate(609.86 191.20) rotate(-45)" text-anchor="end" class="t" font-size="6.85" font-weight="bold" fill="#111">V-shoot</text>
<text transform="translate(639.13 191.20) rotate(-45)" text-anchor="end" class="t" font-size="6.85" font-weight="bold" fill="#111">90°-shoot</text>
<text transform="translate(668.40 191.20) rotate(-45)" text-anchor="end" class="t" font-size="6.85" font-weight="bold" fill="#111">Cs-shoot</text>
<text transform="translate(372.00 102.50) rotate(-90)" text-anchor="middle" class="t" font-size="7.3" font-weight="bold" fill="#111" textLength="69.5" lengthAdjust="spacingAndGlyphs">Relative expression level</text>
<text x="348.3" y="12.2" class="t" font-size="16.5" font-weight="bold" fill="#111">(b)</text>
<text x="388.5" y="27.7" class="t" font-size="7.2" font-weight="bold" fill="#111" textLength="30" lengthAdjust="spacingAndGlyphs">10µMPAA</text>
<text x="430.60" y="28.80" class="t" font-size="7.2" fill="#2a2a2a" textLength="13.4" lengthAdjust="spacingAndGlyphs">PIN1</text>
<text x="430.60" y="35.60" class="t" font-size="7.2" fill="#2a2a2a" textLength="13.4" lengthAdjust="spacingAndGlyphs">PIN2</text>
<text x="430.60" y="42.50" class="t" font-size="7.2" fill="#2a2a2a" textLength="16.3" lengthAdjust="spacingAndGlyphs">PIN3a</text>
<text x="424.30" y="75.90" text-anchor="middle" class="t" font-size="8.2" fill="#1a1a1a" textLength="10.1" lengthAdjust="spacingAndGlyphs">***</text>
<text x="438.90" y="112.10" text-anchor="middle" class="t" font-size="8.2" fill="#1a1a1a" textLength="10.1" lengthAdjust="spacingAndGlyphs">***</text>
<text x="457.90" y="154.20" text-anchor="middle" class="t" font-size="8.2" fill="#1a1a1a" textLength="10.1" lengthAdjust="spacingAndGlyphs">***</text>
<text x="467.50" y="128.40" text-anchor="middle" class="t" font-size="8.2" fill="#1a1a1a" textLength="10.1" lengthAdjust="spacingAndGlyphs">***</text>
<text x="482.80" y="75.90" text-anchor="middle" class="t" font-size="8.2" fill="#1a1a1a" textLength="10.1" lengthAdjust="spacingAndGlyphs">***</text>
<text x="497.30" y="112.10" text-anchor="middle" class="t" font-size="8.2" fill="#1a1a1a" textLength="10.1" lengthAdjust="spacingAndGlyphs">***</text>
<text x="511.50" y="119.10" text-anchor="middle" class="t" font-size="8.2" fill="#1a1a1a" textLength="10.1" lengthAdjust="spacingAndGlyphs">***</text>
<text x="519.60" y="163.90" text-anchor="middle" class="t" font-size="8.2" fill="#1a1a1a" textLength="3.4" lengthAdjust="spacingAndGlyphs">*</text>
<text x="527.30" y="125.50" text-anchor="middle" class="t" font-size="8.2" fill="#1a1a1a" textLength="10.1" lengthAdjust="spacingAndGlyphs">***</text>
<text x="547.50" y="174.70" text-anchor="middle" class="t" font-size="8.2" fill="#1a1a1a" textLength="10.1" lengthAdjust="spacingAndGlyphs">***</text>
<text x="570.00" y="120.70" text-anchor="middle" class="t" font-size="8.2" fill="#1a1a1a" textLength="10.1" lengthAdjust="spacingAndGlyphs">***</text>
<text x="577.50" y="162.60" text-anchor="middle" class="t" font-size="8.2" fill="#1a1a1a" textLength="3.4" lengthAdjust="spacingAndGlyphs">*</text>
<text x="585.00" y="125.00" text-anchor="middle" class="t" font-size="8.2" fill="#1a1a1a" textLength="10.1" lengthAdjust="spacingAndGlyphs">***</text>
<text x="598.40" y="129.20" text-anchor="middle" class="t" font-size="8.2" fill="#1a1a1a" textLength="10.1" lengthAdjust="spacingAndGlyphs">***</text>
<text x="614.70" y="50.40" text-anchor="middle" class="t" font-size="8.2" fill="#1a1a1a" textLength="10.1" lengthAdjust="spacingAndGlyphs">***</text>
<text x="636.30" y="155.10" text-anchor="middle" class="t" font-size="8.2" fill="#1a1a1a" textLength="3.4" lengthAdjust="spacingAndGlyphs">*</text>
<text x="643.50" y="130.00" text-anchor="middle" class="t" font-size="8.2" fill="#1a1a1a" textLength="10.1" lengthAdjust="spacingAndGlyphs">***</text>
<text x="655.80" y="125.00" text-anchor="middle" class="t" font-size="8.2" fill="#1a1a1a" textLength="10.1" lengthAdjust="spacingAndGlyphs">***</text>
<text x="665.50" y="145.10" text-anchor="middle" class="t" font-size="8.2" fill="#1a1a1a" textLength="3.4" lengthAdjust="spacingAndGlyphs">*</text>
<text x="673.20" y="50.40" text-anchor="middle" class="t" font-size="8.2" fill="#1a1a1a" textLength="10.1" lengthAdjust="spacingAndGlyphs">***</text>
<text x="43.20" y="520.85" text-anchor="end" class="t" font-size="6.85" font-weight="bold" fill="#111">0</text>
<text x="43.20" y="480.65" text-anchor="end" class="t" font-size="6.85" font-weight="bold" fill="#111">5</text>
<text x="43.20" y="440.45" text-anchor="end" class="t" font-size="6.85" font-weight="bold" fill="#111">10</text>
<text x="43.20" y="400.25" text-anchor="end" class="t" font-size="6.85" font-weight="bold" fill="#111">15</text>
<text x="43.20" y="360.05" text-anchor="end" class="t" font-size="6.85" font-weight="bold" fill="#111">20</text>
<text transform="translate(63.18 526.20) rotate(-45)" text-anchor="end" class="t" font-size="6.85" font-weight="bold" fill="#111">H-Control</text>
<text transform="translate(92.64 526.20) rotate(-45)" text-anchor="end" class="t" font-size="6.85" font-weight="bold" fill="#111">V-root</text>
<text transform="translate(122.11 526.20) rotate(-45)" text-anchor="end" class="t" font-size="6.85" font-weight="bold" fill="#111">90°-root</text>
<text transform="translate(151.59 526.20) rotate(-45)" text-anchor="end" class="t" font-size="6.85" font-weight="bold" fill="#111">cs-root</text>
<text transform="translate(181.06 526.20) rotate(-45)" text-anchor="end" class="t" font-size="6.85" font-weight="bold" fill="#111">V-rtj</text>
<text transform="translate(210.53 526.20) rotate(-45)" text-anchor="end" class="t" font-size="6.85" font-weight="bold" fill="#111">90°-rtj</text>
<text transform="translate(240.00 526.20) rotate(-45)" text-anchor="end" class="t" font-size="6.85" font-weight="bold" fill="#111">Cs-rtj</text>
<text transform="translate(269.47 526.20) rotate(-45)" text-anchor="end" class="t" font-size="6.85" font-weight="bold" fill="#111">V-shoot</text>
<text transform="translate(298.94 526.20) rotate(-45)" text-anchor="end" class="t" font-size="6.85" font-weight="bold" fill="#111">90°-shoot</text>
<text transform="translate(328.41 526.20) rotate(-45)" text-anchor="end" class="t" font-size="6.85" font-weight="bold" fill="#111">Cs-shoot</text>
<text transform="translate(33.20 437.50) rotate(-90)" text-anchor="middle" class="t" font-size="7.3" font-weight="bold" fill="#111" textLength="69.5" lengthAdjust="spacingAndGlyphs">Relative expression level</text>
<text x="1.2" y="344.5" class="t" font-size="16.5" font-weight="bold" fill="#111">(c)</text>
<text x="46.6" y="364.8" class="t" font-size="7.2" font-weight="bold" fill="#111" textLength="23.5" lengthAdjust="spacingAndGlyphs">10µMJA</text>
<text x="83.30" y="364.60" class="t" font-size="7.2" fill="#2a2a2a" textLength="13.4" lengthAdjust="spacingAndGlyphs">PIN1</text>
<text x="83.30" y="372.10" class="t" font-size="7.2" fill="#2a2a2a" textLength="13.4" lengthAdjust="spacingAndGlyphs">PIN2</text>
<text x="83.30" y="379.30" class="t" font-size="7.2" fill="#2a2a2a" textLength="16.3" lengthAdjust="spacingAndGlyphs">PIN3a</text>
<text x="82.50" y="435.90" text-anchor="middle" class="t" font-size="8.2" fill="#1a1a1a" textLength="10.1" lengthAdjust="spacingAndGlyphs">***</text>
<text x="97.20" y="505.60" text-anchor="middle" class="t" font-size="8.2" fill="#1a1a1a" textLength="10.1" lengthAdjust="spacingAndGlyphs">***</text>
<text x="110.50" y="516.40" text-anchor="middle" class="t" font-size="8.2" fill="#1a1a1a" textLength="6.7" lengthAdjust="spacingAndGlyphs">**</text>
<text x="125.60" y="515.90" text-anchor="middle" class="t" font-size="8.2" fill="#1a1a1a" textLength="10.1" lengthAdjust="spacingAndGlyphs">***</text>
<text x="139.40" y="511.90" text-anchor="middle" class="t" font-size="8.2" fill="#1a1a1a" textLength="10.1" lengthAdjust="spacingAndGlyphs">***</text>
<text x="151.50" y="515.90" text-anchor="middle" class="t" font-size="8.2" fill="#1a1a1a" textLength="10.1" lengthAdjust="spacingAndGlyphs">***</text>
<text x="168.30" y="516.40" text-anchor="middle" class="t" font-size="8.2" fill="#1a1a1a" textLength="6.7" lengthAdjust="spacingAndGlyphs">**</text>
<text x="198.90" y="515.40" text-anchor="middle" class="t" font-size="8.2" fill="#1a1a1a" textLength="6.7" lengthAdjust="spacingAndGlyphs">**</text>
<text x="213.50" y="517.90" text-anchor="middle" class="t" font-size="8.2" fill="#1a1a1a" textLength="3.4" lengthAdjust="spacingAndGlyphs">*</text>
<text x="237.80" y="515.90" text-anchor="middle" class="t" font-size="8.2" fill="#1a1a1a" textLength="6.7" lengthAdjust="spacingAndGlyphs">**</text>
<text x="265.70" y="512.40" text-anchor="middle" class="t" font-size="8.2" fill="#1a1a1a" textLength="6.7" lengthAdjust="spacingAndGlyphs">**</text>
<text x="274.50" y="508.30" text-anchor="middle" class="t" font-size="8.2" fill="#1a1a1a" textLength="10.1" lengthAdjust="spacingAndGlyphs">***</text>
<text x="295.80" y="372.40" text-anchor="middle" class="t" font-size="8.2" fill="#1a1a1a" textLength="10.1" lengthAdjust="spacingAndGlyphs">***</text>
<text x="305.70" y="471.90" text-anchor="middle" class="t" font-size="8.2" fill="#1a1a1a" textLength="10.1" lengthAdjust="spacingAndGlyphs">***</text>
<text x="321.70" y="487.50" text-anchor="middle" class="t" font-size="8.2" fill="#1a1a1a" textLength="10.1" lengthAdjust="spacingAndGlyphs">***</text>
<text x="332.00" y="443.30" text-anchor="middle" class="t" font-size="8.2" fill="#1a1a1a" textLength="10.1" lengthAdjust="spacingAndGlyphs">***</text>
<text x="385.40" y="520.85" text-anchor="end" class="t" font-size="6.85" font-weight="bold" fill="#111">0</text>
<text x="385.40" y="488.75" text-anchor="end" class="t" font-size="6.85" font-weight="bold" fill="#111">20</text>
<text x="385.40" y="456.65" text-anchor="end" class="t" font-size="6.85" font-weight="bold" fill="#111">40</text>
<text x="385.40" y="424.55" text-anchor="end" class="t" font-size="6.85" font-weight="bold" fill="#111">60</text>
<text x="385.40" y="392.45" text-anchor="end" class="t" font-size="6.85" font-weight="bold" fill="#111">80</text>
<text x="385.40" y="360.35" text-anchor="end" class="t" font-size="6.85" font-weight="bold" fill="#111">100</text>
<text transform="translate(404.98 526.20) rotate(-45)" text-anchor="end" class="t" font-size="6.85" font-weight="bold" fill="#111">H-Control</text>
<text transform="translate(434.51 526.20) rotate(-45)" text-anchor="end" class="t" font-size="6.85" font-weight="bold" fill="#111">V-root</text>
<text transform="translate(464.04 526.20) rotate(-45)" text-anchor="end" class="t" font-size="6.85" font-weight="bold" fill="#111">90°-root</text>
<text transform="translate(493.56 526.20) rotate(-45)" text-anchor="end" class="t" font-size="6.85" font-weight="bold" fill="#111">cs-root</text>
<text transform="translate(523.10 526.20) rotate(-45)" text-anchor="end" class="t" font-size="6.85" font-weight="bold" fill="#111">V-rtj</text>
<text transform="translate(552.62 526.20) rotate(-45)" text-anchor="end" class="t" font-size="6.85" font-weight="bold" fill="#111">90°-rtj</text>
<text transform="translate(582.15 526.20) rotate(-45)" text-anchor="end" class="t" font-size="6.85" font-weight="bold" fill="#111">Cs-rtj</text>
<text transform="translate(611.68 526.20) rotate(-45)" text-anchor="end" class="t" font-size="6.85" font-weight="bold" fill="#111">V-shoot</text>
<text transform="translate(641.22 526.20) rotate(-45)" text-anchor="end" class="t" font-size="6.85" font-weight="bold" fill="#111">90°-shoot</text>
<text transform="translate(670.75 526.20) rotate(-45)" text-anchor="end" class="t" font-size="6.85" font-weight="bold" fill="#111">Cs-shoot</text>
<text transform="translate(371.70 437.50) rotate(-90)" text-anchor="middle" class="t" font-size="7.3" font-weight="bold" fill="#111" textLength="69.5" lengthAdjust="spacingAndGlyphs">Relative expression level</text>
<text x="348.3" y="344.5" class="t" font-size="16.5" font-weight="bold" fill="#111">(d)</text>
<text x="388.8" y="362.4" class="t" font-size="7.2" font-weight="bold" fill="#111" textLength="26.3" lengthAdjust="spacingAndGlyphs">10 µMGA</text>
<text x="427.30" y="363.20" class="t" font-size="7.2" fill="#2a2a2a" textLength="13.4" lengthAdjust="spacingAndGlyphs">PIN1</text>
<text x="427.30" y="368.90" class="t" font-size="7.2" fill="#2a2a2a" textLength="13.4" lengthAdjust="spacingAndGlyphs">PIN2</text>
<text x="427.30" y="375.30" class="t" font-size="7.2" fill="#2a2a2a" textLength="16.3" lengthAdjust="spacingAndGlyphs">PIN3a</text>
<text x="439.20" y="491.30" text-anchor="middle" class="t" font-size="8.2" fill="#1a1a1a" textLength="10.1" lengthAdjust="spacingAndGlyphs">***</text>
<text x="453.60" y="473.70" text-anchor="middle" class="t" font-size="8.2" fill="#1a1a1a" textLength="10.1" lengthAdjust="spacingAndGlyphs">***</text>
<text x="463.10" y="503.30" text-anchor="middle" class="t" font-size="8.2" fill="#1a1a1a" textLength="10.1" lengthAdjust="spacingAndGlyphs">***</text>
<text x="482.90" y="469.80" text-anchor="middle" class="t" font-size="8.2" fill="#1a1a1a" textLength="10.1" lengthAdjust="spacingAndGlyphs">***</text>
<text x="498.40" y="396.70" text-anchor="middle" class="t" font-size="8.2" fill="#1a1a1a" textLength="10.1" lengthAdjust="spacingAndGlyphs">***</text>
<text x="512.70" y="404.50" text-anchor="middle" class="t" font-size="8.2" fill="#1a1a1a" textLength="10.1" lengthAdjust="spacingAndGlyphs">***</text>
<text x="524.00" y="456.00" text-anchor="middle" class="t" font-size="8.2" fill="#1a1a1a" textLength="10.1" lengthAdjust="spacingAndGlyphs">***</text>
<text x="542.40" y="490.90" text-anchor="middle" class="t" font-size="8.2" fill="#1a1a1a" textLength="10.1" lengthAdjust="spacingAndGlyphs">***</text>
<text x="552.80" y="508.10" text-anchor="middle" class="t" font-size="8.2" fill="#1a1a1a" textLength="10.1" lengthAdjust="spacingAndGlyphs">***</text>
<text x="567.80" y="511.60" text-anchor="middle" class="t" font-size="8.2" fill="#1a1a1a" textLength="10.1" lengthAdjust="spacingAndGlyphs">***</text>
<text x="579.60" y="511.90" text-anchor="middle" class="t" font-size="8.2" fill="#1a1a1a" textLength="10.1" lengthAdjust="spacingAndGlyphs">***</text>
<text x="588.40" y="515.90" text-anchor="middle" class="t" font-size="8.2" fill="#1a1a1a" textLength="10.1" lengthAdjust="spacingAndGlyphs">***</text>
<text x="616.30" y="513.60" text-anchor="middle" class="t" font-size="8.2" fill="#1a1a1a" textLength="10.1" lengthAdjust="spacingAndGlyphs">***</text>
<text x="637.90" y="516.10" text-anchor="middle" class="t" font-size="8.2" fill="#1a1a1a" textLength="10.1" lengthAdjust="spacingAndGlyphs">***</text>
<text x="660.00" y="516.90" text-anchor="middle" class="t" font-size="8.2" fill="#1a1a1a" textLength="10.1" lengthAdjust="spacingAndGlyphs">***</text>
<text x="675.00" y="513.90" text-anchor="middle" class="t" font-size="8.2" fill="#1a1a1a" textLength="10.1" lengthAdjust="spacingAndGlyphs">***</text>
<text x="243.90" y="770.65" text-anchor="end" class="t" font-size="6.85" font-weight="bold" fill="#111">0</text>
<text x="243.90" y="717.05" text-anchor="end" class="t" font-size="6.85" font-weight="bold" fill="#111">20</text>
<text x="243.90" y="663.45" text-anchor="end" class="t" font-size="6.85" font-weight="bold" fill="#111">40</text>
<text x="243.90" y="609.85" text-anchor="end" class="t" font-size="6.85" font-weight="bold" fill="#111">60</text>
<text transform="translate(269.90 776.00) rotate(-45)" text-anchor="end" class="t" font-size="6.85" font-weight="bold" fill="#111">H-Control</text>
<text transform="translate(297.53 776.00) rotate(-45)" text-anchor="end" class="t" font-size="6.85" font-weight="bold" fill="#111">V-root</text>
<text transform="translate(325.16 776.00) rotate(-45)" text-anchor="end" class="t" font-size="6.85" font-weight="bold" fill="#111">90°-root</text>
<text transform="translate(352.79 776.00) rotate(-45)" text-anchor="end" class="t" font-size="6.85" font-weight="bold" fill="#111">cs-root</text>
<text transform="translate(380.42 776.00) rotate(-45)" text-anchor="end" class="t" font-size="6.85" font-weight="bold" fill="#111">V-rtj</text>
<text transform="translate(408.05 776.00) rotate(-45)" text-anchor="end" class="t" font-size="6.85" font-weight="bold" fill="#111">90°-rtj</text>
<text transform="translate(435.68 776.00) rotate(-45)" text-anchor="end" class="t" font-size="6.85" font-weight="bold" fill="#111">Cs-rtj</text>
<text transform="translate(463.31 776.00) rotate(-45)" text-anchor="end" class="t" font-size="6.85" font-weight="bold" fill="#111">V-shoot</text>
<text transform="translate(490.94 776.00) rotate(-45)" text-anchor="end" class="t" font-size="6.85" font-weight="bold" fill="#111">90°-shoot</text>
<text transform="translate(518.57 776.00) rotate(-45)" text-anchor="end" class="t" font-size="6.85" font-weight="bold" fill="#111">Cs-shoot</text>
<text transform="translate(233.90 686.70) rotate(-90)" text-anchor="middle" class="t" font-size="7.3" font-weight="bold" fill="#111" textLength="69.5" lengthAdjust="spacingAndGlyphs">Relative expression level</text>
<text x="211.2" y="611.3" class="t" font-size="16.5" font-weight="bold" fill="#111">(e)</text>
<text x="255.8" y="614.2" class="t" font-size="7.2" font-weight="bold" fill="#111" textLength="34.5" lengthAdjust="spacingAndGlyphs">10µM6-BAP</text>
<text x="304.30" y="614.20" class="t" font-size="7.2" fill="#2a2a2a" textLength="13.4" lengthAdjust="spacingAndGlyphs">PIN1</text>
<text x="304.30" y="621.80" class="t" font-size="7.2" fill="#2a2a2a" textLength="13.4" lengthAdjust="spacingAndGlyphs">PIN2</text>
<text x="304.30" y="629.40" class="t" font-size="7.2" fill="#2a2a2a" textLength="16.3" lengthAdjust="spacingAndGlyphs">PIN3a</text>
<text x="281.20" y="719.10" text-anchor="middle" class="t" font-size="8.2" fill="#1a1a1a" textLength="10.1" lengthAdjust="spacingAndGlyphs">***</text>
<text x="295.70" y="740.20" text-anchor="middle" class="t" font-size="8.2" fill="#1a1a1a" textLength="10.1" lengthAdjust="spacingAndGlyphs">***</text>
<text x="323.10" y="738.70" text-anchor="middle" class="t" font-size="8.2" fill="#1a1a1a" textLength="10.1" lengthAdjust="spacingAndGlyphs">***</text>
<text x="339.70" y="689.70" text-anchor="middle" class="t" font-size="8.2" fill="#1a1a1a" textLength="10.1" lengthAdjust="spacingAndGlyphs">***</text>
<text x="349.50" y="667.20" text-anchor="middle" class="t" font-size="8.2" fill="#1a1a1a" textLength="10.1" lengthAdjust="spacingAndGlyphs">***</text>
<text x="370.00" y="734.90" text-anchor="middle" class="t" font-size="8.2" fill="#1a1a1a" textLength="10.1" lengthAdjust="spacingAndGlyphs">***</text>
<text x="445.40" y="722.40" text-anchor="middle" class="t" font-size="8.2" fill="#1a1a1a" textLength="10.1" lengthAdjust="spacingAndGlyphs">***</text>
<text x="476.30" y="720.40" text-anchor="middle" class="t" font-size="8.2" fill="#1a1a1a" textLength="10.1" lengthAdjust="spacingAndGlyphs">***</text>
<text x="488.10" y="717.90" text-anchor="middle" class="t" font-size="8.2" fill="#1a1a1a" textLength="10.1" lengthAdjust="spacingAndGlyphs">***</text>
<text x="498.70" y="711.60" text-anchor="middle" class="t" font-size="8.2" fill="#1a1a1a" textLength="10.1" lengthAdjust="spacingAndGlyphs">***</text>
<text x="504.50" y="692.70" text-anchor="middle" class="t" font-size="8.2" fill="#1a1a1a" textLength="10.1" lengthAdjust="spacingAndGlyphs">***</text>
<text x="516.30" y="683.90" text-anchor="middle" class="t" font-size="8.2" fill="#1a1a1a" textLength="10.1" lengthAdjust="spacingAndGlyphs">***</text>
</g>
</svg></body></html>
